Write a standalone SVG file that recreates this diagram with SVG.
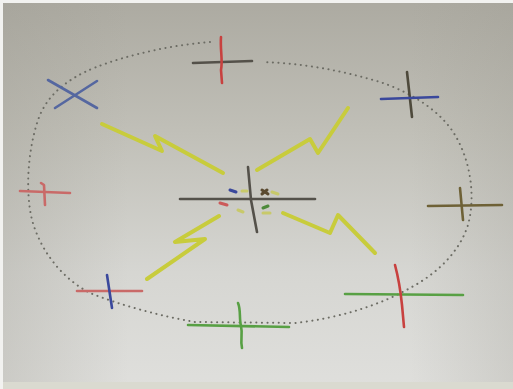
<svg xmlns="http://www.w3.org/2000/svg" width="513" height="389" viewBox="0 0 513 389">
<defs>
<linearGradient id="paper" x1="0" y1="0" x2="0" y2="1">
<stop offset="0" stop-color="#acaaa1"/>
<stop offset="0.35" stop-color="#c1c0b8"/>
<stop offset="0.7" stop-color="#d6d6d2"/>
<stop offset="1" stop-color="#dfdfdc"/>
</linearGradient>
<linearGradient id="side" x1="0" y1="0" x2="1" y2="0">
<stop offset="0" stop-color="#9d9b92" stop-opacity="0.3"/>
<stop offset="0.25" stop-color="#9d9b92" stop-opacity="0"/>
<stop offset="0.8" stop-color="#9d9b92" stop-opacity="0"/>
<stop offset="1" stop-color="#9d9b92" stop-opacity="0.25"/>
</linearGradient>
</defs>
<style>
.m{fill:none;stroke-linecap:round;stroke-linejoin:round;stroke-width:2.6}
.red{stroke:#c8413f}
.pink{stroke:#c96a68}
.dark{stroke:#54514a}
.olive{stroke:#6e6136}
.blue{stroke:#3a489c}
.lblue{stroke:#5567a0}
.green{stroke:#58a044}
.bolt{fill:none;stroke:#c8cc3c;stroke-width:4;stroke-linecap:round;stroke-linejoin:round}
.dot{fill:none;stroke:#6c6c64;stroke-width:2;stroke-linecap:round;stroke-dasharray:0.1 5.5}
.tick{fill:none;stroke-width:3;stroke-linecap:round}
</style>
<rect x="0" y="0" width="513" height="389" fill="url(#paper)"/>
<rect x="0" y="0" width="513" height="389" fill="url(#side)"/>
<rect x="0" y="382" width="513" height="7" fill="#dadad0"/>
<rect x="0" y="0" width="3" height="389" fill="#f2f2f0"/>
<rect x="0" y="0" width="513" height="3" fill="#f2f2f0"/>

<path class="dot" d="M210,42 C160,46 110,60 85,72 C60,84 45,100 38,120 C28,150 25,190 32,220 C42,255 65,280 90,293 C120,305 160,316 195,322 L295,323 C340,318 380,305 410,288 C440,272 460,250 468,225 C476,195 470,160 455,135 C440,110 410,92 380,82 C340,70 300,63 263,62"/>

<g id="bolts">
<polyline class="bolt" points="102,124 162,151 155,136 223,173"/>
<polyline class="bolt" points="257,170 310,139 318,153 348,108"/>
<polyline class="bolt" points="219,216 175,242 205,239 147,279"/>
<polyline class="bolt" points="283,213 330,233 338,215 375,253"/>
</g>

<g id="center">
<line class="m dark" x1="180" y1="199" x2="315" y2="199"/>
<path class="m dark" d="M248,167 L251,200 L257,232"/>
<line class="tick blue" x1="230" y1="190" x2="236" y2="192"/>
<line class="tick" stroke="#c8c96a" x1="242" y1="191" x2="247" y2="191"/>
<path class="tick" stroke="#5a4a30" d="M262,190 L268,194 M262,194 L267,190"/>
<line class="tick" stroke="#c8c96a" x1="272" y1="192" x2="278" y2="194"/>
<line class="tick" stroke="#cc5a5a" x1="220" y1="203" x2="227" y2="205"/>
<line class="tick" stroke="#c8c96a" x1="238" y1="210" x2="243" y2="212"/>
<line class="tick" stroke="#4d8a3a" x1="263" y1="208" x2="268" y2="206"/>
<line class="tick" stroke="#c8c96a" x1="263" y1="213" x2="270" y2="213"/>
</g>

<g id="cross-top">
<line class="m dark" x1="193" y1="63" x2="252" y2="61"/>
<path class="m red" d="M221,37 C220,50 223,60 221,70 L222,83"/>
</g>
<g id="cross-upper-left">
<line class="m lblue" x1="48" y1="80" x2="97" y2="108"/>
<line class="m lblue" x1="55" y1="108" x2="97" y2="81"/>
</g>
<g id="cross-upper-right">
<line class="m" stroke="#4e4a3c" x1="407" y1="72" x2="412" y2="117"/>
<line class="m blue" x1="381" y1="99" x2="438" y2="97"/>
</g>
<g id="cross-left">
<line class="m pink" x1="20" y1="191" x2="70" y2="193"/>
<path class="m pink" d="M41,183 L44,185 L45,205"/>
</g>
<g id="cross-right">
<line class="m olive" x1="428" y1="206" x2="502" y2="205"/>
<line class="m olive" x1="460" y1="188" x2="463" y2="220"/>
</g>
<g id="cross-lower-left">
<line class="m pink" x1="77" y1="291" x2="142" y2="291"/>
<line class="m blue" x1="107" y1="275" x2="112" y2="308"/>
</g>
<g id="cross-bottom">
<line class="m green" x1="188" y1="325" x2="289" y2="327"/>
<path class="m green" d="M238,303 C241,310 239,318 241,326 C243,335 240,340 242,348"/>
</g>
<g id="cross-lower-right">
<line class="m green" x1="345" y1="294" x2="463" y2="295"/>
<path class="m red" d="M395,265 C399,280 401,295 402,305 L404,327"/>
</g>
</svg>
